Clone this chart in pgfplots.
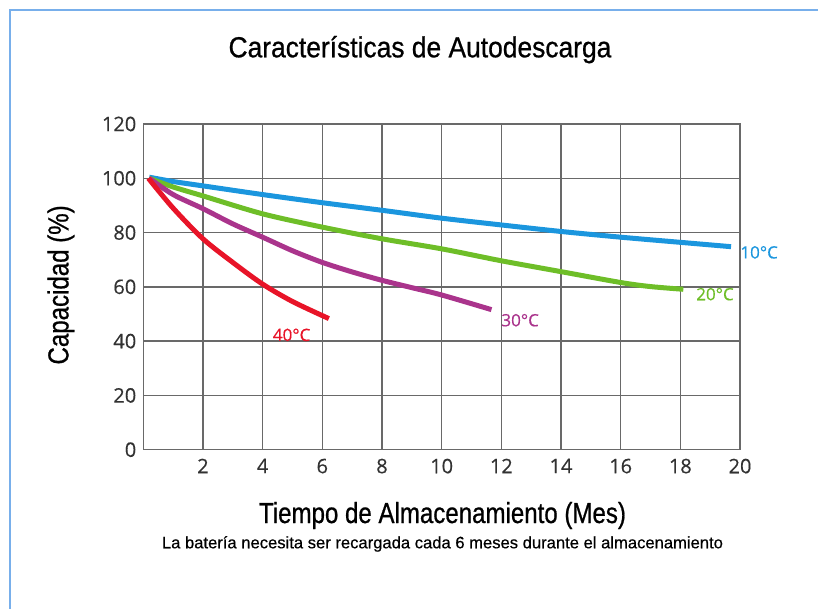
\documentclass[border=0pt]{standalone}
\usepackage{pgfplots}
\pgfplotsset{compat=1.18}
\usepackage{fontspec}
\setmainfont[FakeBold=0.5]{Liberation Sans}
\newfontfamily\titlefont[FakeStretch=0.91,FakeBold=0.7]{Liberation Sans}
\newfontfamily\labelfont[FakeStretch=0.83,FakeBold=0.7]{Liberation Sans}
\newfontfamily\tickfont[FakeBold=0.4]{Open Sans}
\newfontfamily\curvefont[FakeBold=0.4]{Open Sans}
\definecolor{c10}{RGB}{27,150,222}
\definecolor{c20}{RGB}{110,190,40}
\definecolor{c30}{RGB}{170,52,140}
\definecolor{c40}{RGB}{232,20,40}
\definecolor{frameblue}{RGB}{120,175,235}
\definecolor{gridgray}{RGB}{105,105,105}
\definecolor{txtgray}{RGB}{50,50,50}
\begin{document}
\begin{tikzpicture}
\path[use as bounding box] (0,0) rectangle (409pt,304.5pt);
\draw[frameblue, line width=1pt] (4.75pt,0) -- (4.75pt,299.35pt) -- (409pt,299.35pt);
\begin{axis}[
  at={(71.65pt,79.65pt)}, anchor=south west,
  scale only axis, width=298.35pt, height=162.85pt,
  xmin=0, xmax=20, ymin=0, ymax=120,
  xtick={2,4,...,20}, ytick={0,20,...,120},
  grid=major, major grid style={draw=gridgray, line width=0.7pt},
  axis line style={draw=gridgray, line width=0.7pt},
  major tick length=0pt,
  /pgf/number format/assume math mode=true,
  ticklabel style={font=\tickfont\fontsize{10}{12}\selectfont, text=txtgray},
  xticklabel style={yshift=-1pt},
  xlabel={Tiempo de Almacenamiento (Mes)},
  xlabel style={at={(axis description cs:0.5014,-0.2251)}, anchor=base, font=\labelfont\fontsize{14.5}{17}\selectfont},
  ylabel={Capacidad (\%)},
  ylabel style={at={(axis description cs:-0.138,0.506)}, anchor=center, rotate=0, font=\labelfont\fontsize{14.5}{17}\selectfont},
  clip=false,
]
\addplot[c10, line width=2.5pt, smooth] coordinates {
 (0.2,100.4) (1,98.8) (2,97.2) (4,94.0) (6,91.0) (8,88.2) (10,85.3) (12,82.8) (14,80.4) (16,78.3) (18,76.4) (19.7,74.8)};
\addplot[c20, line width=2.5pt, smooth] coordinates {
 (0.2,100) (1,96.8) (2,93.5) (4,86.9) (6,82.0) (8,77.7) (10,74.0) (12,69.6) (14,65.6) (16,61.6) (17,60.1) (18.1,59.1)};
\addplot[c30, line width=2.5pt, smooth] coordinates {
 (0.2,100) (1,94.0) (2,88.8) (3,83.2) (4,78.3) (5,73.3) (6,69.0) (7,65.5) (8,62.4) (9,59.7) (10,57.0) (11.67,51.6)};
\addplot[c40, line width=2.5pt, smooth] coordinates {
 (0.17,100) (1,89.0) (2,77.7) (3,69.0) (4,61.0) (5,54.6) (6.22,48.3)};
\node[anchor=west, inner sep=0pt, text=c10, font=\curvefont\fontsize{8.5}{10}\selectfont] at (axis cs:20.0,72.7) {10°C};
\node[anchor=west, inner sep=0pt, text=c20, font=\curvefont\fontsize{8.5}{10}\selectfont] at (axis cs:18.52,57.3) {20°C};
\node[anchor=west, inner sep=0pt, text=c30, font=\curvefont\fontsize{8.5}{10}\selectfont] at (axis cs:11.99,47.7) {30°C};
\node[anchor=west, inner sep=0pt, text=c40, font=\curvefont\fontsize{8.5}{10}\selectfont] at (axis cs:4.33,42.3) {40°C};
\node[anchor=base, font=\titlefont\fontsize{14.5}{17}\selectfont] at (axis description cs:0.4637,1.2048) {Características de Autodescarga};
\node[anchor=base, font=\fontsize{8.3}{10}\selectfont] at (axis description cs:0.5014,-0.3027) {La batería necesita ser recargada cada 6 meses durante el almacenamiento};
\end{axis}
\end{tikzpicture}
\end{document}
